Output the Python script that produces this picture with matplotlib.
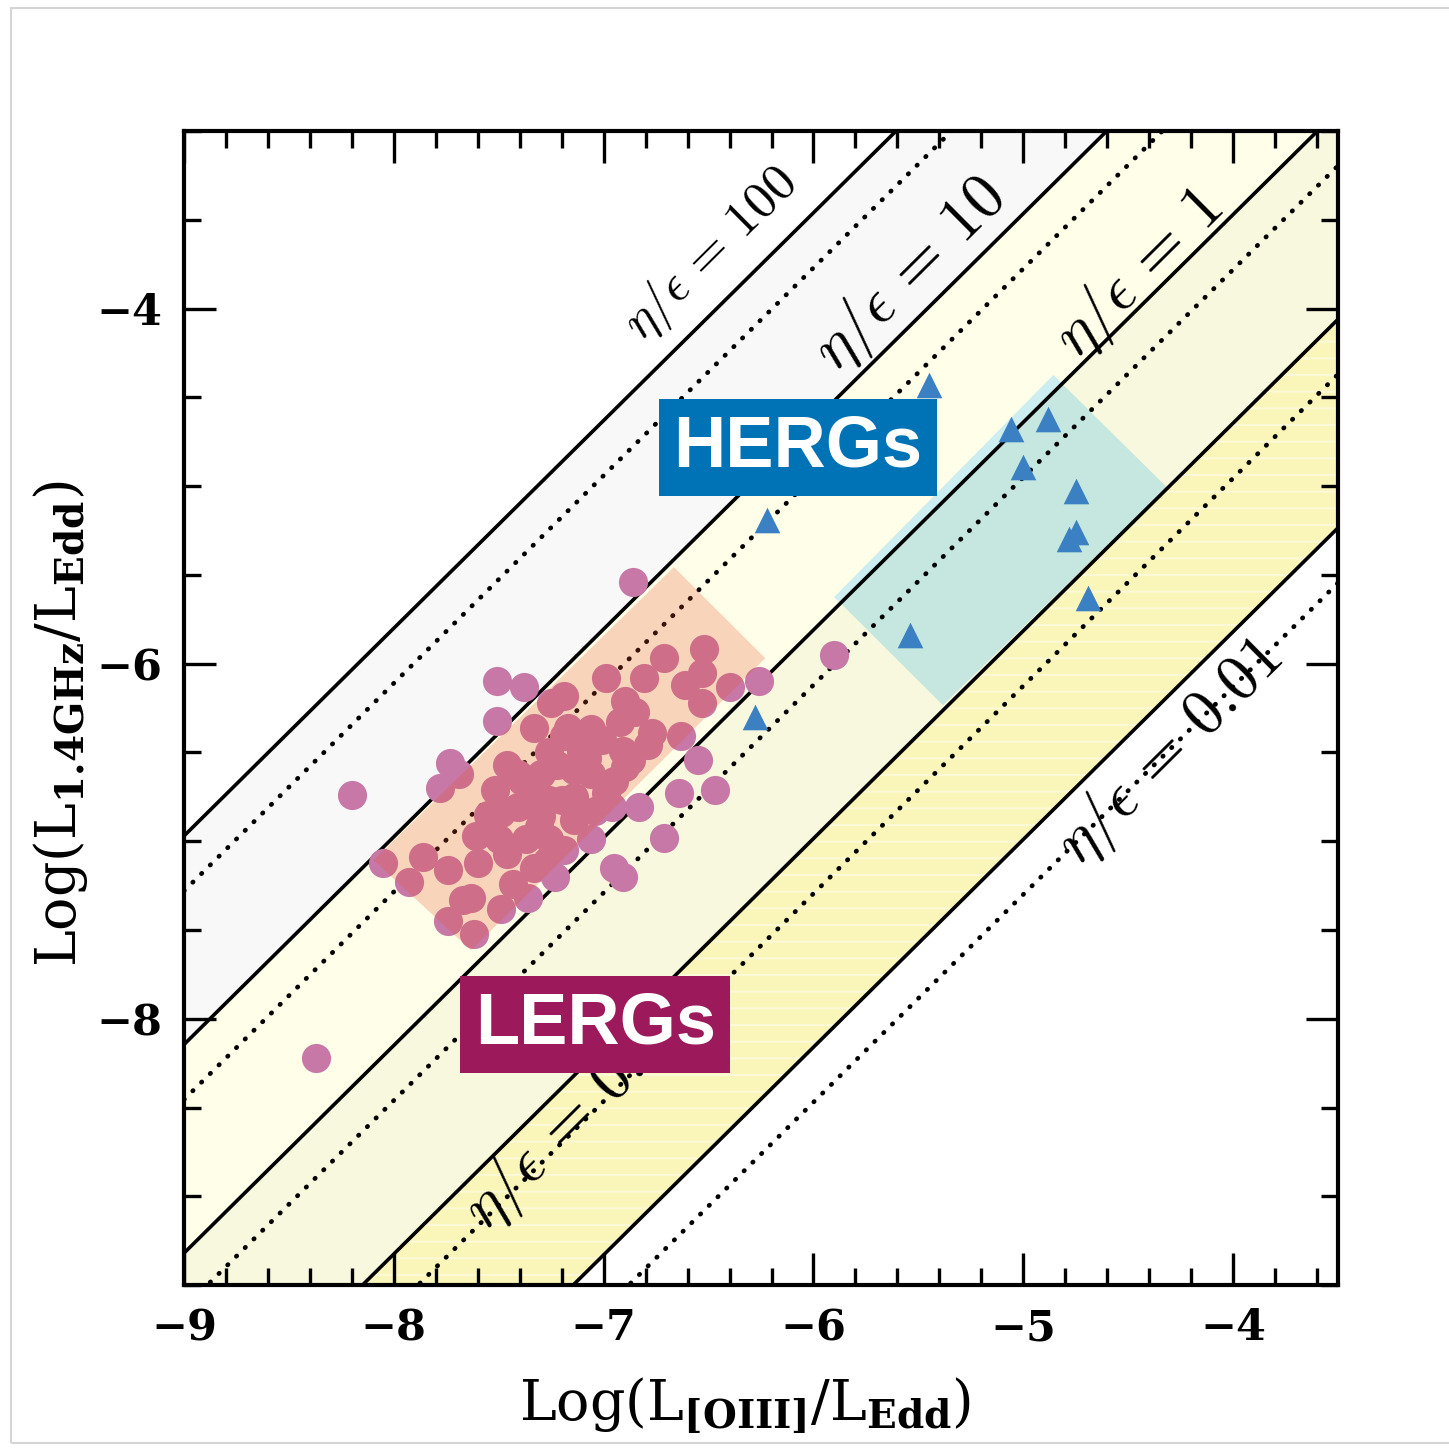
import numpy as np
import matplotlib
matplotlib.use("Agg")
from matplotlib import pyplot as plt
from matplotlib.patches import Polygon, Rectangle
from matplotlib.ticker import MultipleLocator

# lines of constant eta/epsilon (solid) and the dotted companions
eta_eps = [100, 10, 1, 0.1, 0.01]
eta_text = ["100", "10", "1", "0.1", "0.01"]
slope = 1.17
zero_point = 1.21      # intercept of the eta/eps = 1 line
step = 1.175           # intercept shift per dex of eta/eps
dotted_shift = -0.31

# where the line labels sit
label_x = [-6.49, -5.54, -4.445, -7.18, -4.30]
label_y = [-3.69, -3.81, -3.805, -8.62, -6.50]
label_size = [37, 46, 46, 46, 46]

# LERGs (circles)
lerg_x = [-6.86, -8.20, -8.37, -5.90, -6.26, -6.40, -6.52, -6.71, -6.53, -6.61,
          -6.53, -6.99, -6.81, -6.63, -6.55, -6.64, -6.47, -6.83, -6.71, -6.95,
          -6.91, -7.51, -7.38, -7.51, -7.73, -7.78, -7.69, -8.05, -7.93, -7.86,
          -7.74, -7.74, -7.62, -7.63, -7.60, -7.61, -7.50, -7.46, -7.43, -7.49,
          -7.36, -7.23, -7.33, -7.52, -7.46, -7.41, -7.41, -7.33, -7.30, -7.20,
          -7.14, -7.26, -7.19, -7.33, -7.25, -7.19, -7.17, -7.06, -6.92, -6.90,
          -6.85, -6.77, -7.39, -7.30, -7.19, -7.11, -7.01, -6.91, -6.90, -6.95,
          -7.06, -7.14, -7.26, -7.14, -7.04, -6.96, -7.49, -7.31, -7.26,
          -7.08, -6.99, -6.87, -7.22, -7.37, -7.55, -7.27, -7.67, -7.06, -6.79]
lerg_y = [-5.54, -6.74, -8.22, -5.95, -6.10, -6.13, -5.92, -5.97, -6.05, -6.12,
          -6.22, -6.08, -6.08, -6.41, -6.54, -6.73, -6.71, -6.81, -6.98, -7.15,
          -7.20, -6.10, -6.13, -6.32, -6.56, -6.70, -6.62, -7.12, -7.23, -7.09,
          -7.16, -7.45, -7.52, -7.32, -7.12, -6.97, -6.99, -7.07, -7.24, -7.38,
          -7.32, -7.20, -7.15, -6.71, -6.57, -6.62, -6.81, -6.71, -6.86, -6.77,
          -6.88, -6.99, -7.05, -6.36, -6.22, -6.18, -6.36, -6.37, -6.33, -6.21,
          -6.27, -6.39, -6.66, -6.62, -6.41, -6.49, -6.43, -6.49, -6.58, -6.66,
          -6.62, -6.60, -6.77, -6.75, -6.83, -6.81, -6.84, -6.92, -6.50,
          -6.53, -6.73, -6.54, -6.57, -6.99, -6.85, -7.11, -7.33, -6.99, -6.46]

# HERGs (triangles)
herg_x = [-5.45, -5.06, -4.88, -5.00, -4.75, -4.75, -4.78, -4.69, -5.54, -6.22, -6.28]
herg_y = [-4.43, -4.68, -4.62, -4.89, -5.03, -5.26, -5.30, -5.63, -5.84, -5.19, -6.30]

# shaded regions (corners)
lerg_reg_x = [-6.665, -6.23, -7.632, -8.096]
lerg_reg_y = [-5.456, -5.969, -7.614, -7.107]
herg_reg_x = [-4.856, -4.316, -5.383, -5.90]
herg_reg_y = [-4.375, -5.006, -6.234, -5.625]

band_colors = ["#f8f8f8", "#fefee9", "#f8f8de", "#faf6ba"]

plt.rcParams['mathtext.fontset'] = 'custom'
plt.rcParams['mathtext.rm'] = 'DejaVu Serif'
plt.rcParams['mathtext.it'] = 'DejaVu Serif:italic'
plt.rcParams['mathtext.bf'] = 'DejaVu Serif:bold'
plt.rcParams['hatch.linewidth'] = 1.5

fig = plt.figure(figsize=(14.49, 14.55), dpi=100)
ax = fig.add_axes([0.127, 0.1168, 0.7964, 0.7931])

xs = np.array([-9.0, -3.5])


def line_y(v):
    return slope * xs + zero_point + step * np.log10(v)


bands = []
for i in range(4):
    if i == 3:
        b = ax.fill_between(xs, line_y(eta_eps[i + 1]), line_y(eta_eps[i]),
                            facecolor=band_colors[i], edgecolor='#fcfad6',
                            hatch='-', lw=0, zorder=0.5)
    else:
        b = ax.fill_between(xs, line_y(eta_eps[i + 1]), line_y(eta_eps[i]),
                            color=band_colors[i], lw=0, zorder=0.5)
    bands.append(b)

# HERG region, a bit bluer above the eta/eps = 1 line
herg_xy = np.column_stack([herg_reg_x, herg_reg_y])
ax.add_patch(Polygon(herg_xy, closed=True, fc='#c5e7df', lw=0, zorder=1))
hi = Polygon(herg_xy, closed=True, fc='#cdeef0', lw=0, zorder=1.1)
ax.add_patch(hi)
hi.set_clip_path(bands[1].get_paths()[0], ax.transData)

for v in eta_eps:
    ax.plot(xs, line_y(v), color='k', lw=2.6, zorder=2)
    ax.plot(xs, line_y(v) + dotted_shift, color='k', lw=3.4,
            ls=(0, (0.1, 2.5)), dash_capstyle='round', zorder=2)

for i in range(len(eta_eps)):
    ax.text(label_x[i], label_y[i], r'$\eta/\epsilon\,=\,%s$' % eta_text[i],
            fontsize=label_size[i], rotation=44.8, rotation_mode='anchor',
            ha='center', va='center', math_fontfamily='cm', zorder=2.5)

ax.scatter(lerg_x, lerg_y, s=440, c='#c778a6', lw=0, zorder=3)
ax.add_patch(Polygon(np.column_stack([lerg_reg_x, lerg_reg_y]), closed=True,
                     fc='#e8502a', alpha=0.24, lw=0, zorder=4))
ax.scatter(herg_x, herg_y, s=340, marker='^', c='#3b80c2', lw=0, zorder=3)

ax.text(-6.075, -4.78, 'HERGs', fontsize=52, fontweight='bold',
        family='Liberation Sans', color='white', ha='center', va='center',
        bbox=dict(boxstyle='square,pad=0.2', fc='#0072b6', ec='none'), zorder=6)
ax.text(-7.04, -8.03, 'LERGs', fontsize=52, fontweight='bold',
        family='Liberation Sans', color='white', ha='center', va='center',
        bbox=dict(boxstyle='square,pad=0.2', fc='#9c1a5c', ec='none'), zorder=6)

ax.set_xlim(-9, -3.5)
ax.set_ylim(-9.5, -3)
ax.set_xticks([-9, -8, -7, -6, -5, -4])
ax.set_yticks([-8, -6, -4])
ax.xaxis.set_minor_locator(MultipleLocator(0.2))
ax.yaxis.set_minor_locator(MultipleLocator(0.5))
ax.tick_params(which='both', direction='in', top=True, right=True, width=2.4)
ax.tick_params(which='major', length=23, pad=16, labelsize=31)
ax.tick_params(which='minor', length=12)
for lab in ax.get_xticklabels() + ax.get_yticklabels():
    lab.set_family('DejaVu Serif')
    lab.set_fontweight('bold')
for s in ax.spines.values():
    s.set_linewidth(3)

ax.set_xlabel(r'$\mathrm{Log(L}_{\mathbf{[OIII]}}\mathrm{/L}_{\mathbf{Edd}}\mathrm{)}$', fontsize=40)
ax.xaxis.set_label_coords(0.486, -0.078)
ax.set_ylabel(r'$\mathrm{Log(L}_{\mathbf{1.4GHz}}\mathrm{/L}_{\mathbf{Edd}}\mathrm{)}$', fontsize=40)
ax.yaxis.set_label_coords(-0.0815, 0.486)

# window frame of the screenshot
fig.add_artist(Rectangle((11 / 1449, 12 / 1455), 1.0, 1435 / 1455,
                         transform=fig.transFigure, fill=False,
                         ec='#d5d5d5', lw=1.5))

fig.savefig('out.png', dpi=100)
